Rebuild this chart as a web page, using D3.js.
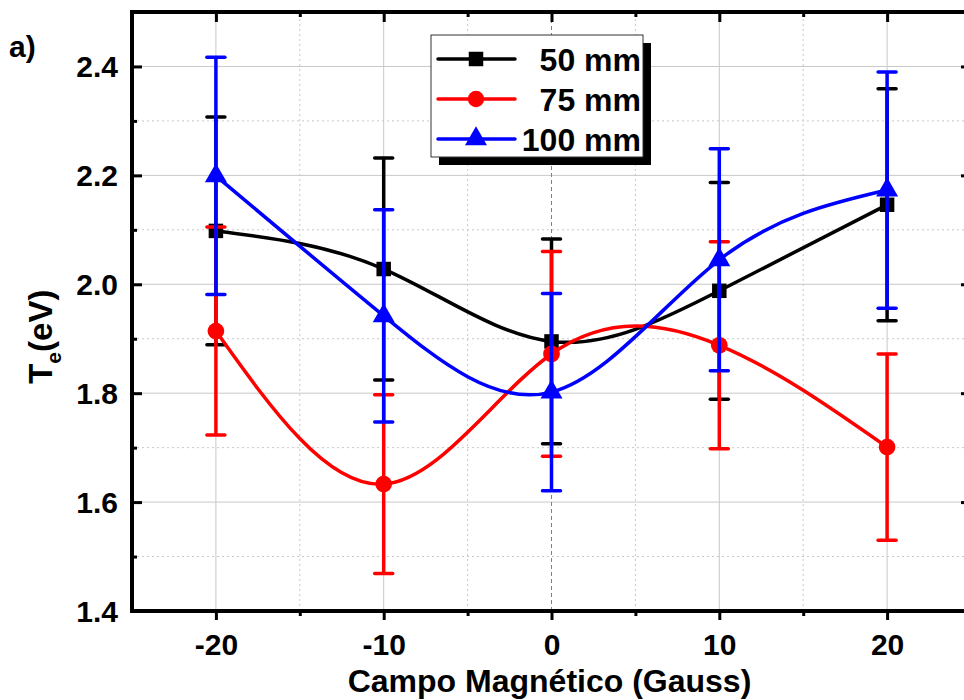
<!DOCTYPE html>
<html>
<head>
<meta charset="utf-8">
<script src="https://cdn.jsdelivr.net/npm/d3@7"></script>
<style>
  body { margin: 0; background: #fff; }
  text { font-family: "Liberation Sans", Arial, sans-serif; font-weight: bold; }
</style>
</head>
<body>
<div class="canva"></div>
<script>
// data
const campo = [-20, -10, 0, 10, 20]
const series = ["50 mm", "75 mm", "100 mm"]
const te50 = [2.098, 2.028, 1.895, 1.988, 2.146]
const err50 = [0.209, 0.204, 0.188, 0.199, 0.213]
const te75 = [1.914, 1.633, 1.872, 1.888, 1.701]
const err75 = [0.191, 0.164, 0.188, 0.19, 0.171]
const te100 = [2.199, 1.942, 1.802, 2.045, 2.173]
const err100 = [0.218, 0.195, 0.181, 0.204, 0.217]
const colors = ["#000000", "#ff0000", "#0000ff"]
const symbols = [d3.symbolSquare, d3.symbolCircle, d3.symbolTriangle]
const xTicks = [-20, -10, 0, 10, 20]
const yTicks = [1.4, 1.6, 1.8, 2.0, 2.2, 2.4]

const width = 964
const height = 700
const margin = { left: 132, top: 12, right: -7, bottom: 89 }

const svg = d3.select(".canva").append("svg").attr("width", width).attr("height", height)

const x = d3.scaleLinear().domain([-25, 25]).range([margin.left, width - margin.right])
const y = d3.scaleLinear().domain([1.4, 2.5]).range([height - margin.bottom, margin.top])

const x0 = x.range()[0], x1 = x.range()[1]
const y0 = y.range()[0], y1 = y.range()[1]

// grid
const grid = svg.append("g")
const xMinor = [-15, -5, 5, 15]
const yMinor = [1.5, 1.7, 1.9, 2.1, 2.3]
grid.selectAll(".vmaj").data(xTicks.filter(v => v != 0)).enter().append("line")
  .attr("x1", d => x(d)).attr("x2", d => x(d)).attr("y1", y0).attr("y2", y1)
  .attr("stroke", "#c8c8c8").attr("stroke-width", 1)
grid.selectAll(".vmin").data(xMinor).enter().append("line")
  .attr("x1", d => x(d)).attr("x2", d => x(d)).attr("y1", y0).attr("y2", y1)
  .attr("stroke", "#c8c8c8").attr("stroke-width", 1).attr("stroke-dasharray", "2,3")
grid.selectAll(".hmaj").data(yTicks).enter().append("line")
  .attr("x1", x0).attr("x2", x1).attr("y1", d => y(d)).attr("y2", d => y(d))
  .attr("stroke", "#c8c8c8").attr("stroke-width", 1)
grid.selectAll(".hmin").data(yMinor).enter().append("line")
  .attr("x1", x0).attr("x2", x1).attr("y1", d => y(d)).attr("y2", d => y(d))
  .attr("stroke", "#c8c8c8").attr("stroke-width", 1).attr("stroke-dasharray", "2,3")
// zero line
grid.append("line")
  .attr("x1", x(0)).attr("x2", x(0)).attr("y1", y0).attr("y2", y1)
  .attr("stroke", "#808080").attr("stroke-width", 1).attr("stroke-dasharray", "4,3")

// axes
const tickFmt = d3.format(".1f")
svg.append("g").attr("transform", `translate(0,${y0})`)
  .call(d3.axisBottom(x).tickValues(xTicks).tickSize(9).tickFormat(d => String(d)))
  .call(g => g.select(".domain").remove())
  .call(g => g.selectAll("line").attr("stroke-width", 3))
  .call(g => g.selectAll("text").attr("font-size", 30).attr("dy", "1.05em").attr("font-family", null))
svg.append("g").attr("transform", `translate(0,${y0})`)
  .call(d3.axisBottom(x).tickValues(xMinor).tickSize(5).tickFormat(""))
  .call(g => g.select(".domain").remove())
  .call(g => g.selectAll("line").attr("stroke-width", 3))

svg.append("g").attr("transform", `translate(${x0},0)`)
  .call(d3.axisRight(y).tickValues(yTicks).tickSize(10).tickFormat(""))
  .call(g => g.select(".domain").remove())
  .call(g => g.selectAll("line").attr("stroke-width", 3))
svg.append("g").attr("transform", `translate(${x0},0)`)
  .call(d3.axisRight(y).tickValues(yMinor).tickSize(5).tickFormat(""))
  .call(g => g.select(".domain").remove())
  .call(g => g.selectAll("line").attr("stroke-width", 3))
svg.append("g").selectAll("text").data(yTicks).enter().append("text")
  .attr("x", x0 - 14).attr("y", d => y(d)).attr("dy", "0.36em")
  .attr("text-anchor", "end").attr("font-size", 30).text(d => tickFmt(d))

svg.append("g").attr("transform", `translate(${x1},0)`)
  .call(d3.axisLeft(y).tickValues(yTicks).tickSize(10).tickFormat(""))
  .call(g => g.select(".domain").remove())
  .call(g => g.selectAll("line").attr("stroke-width", 3))
svg.append("g").attr("transform", `translate(0,${y1})`)
  .call(d3.axisBottom(x).tickValues(xTicks).tickSize(10).tickFormat(""))
  .call(g => g.select(".domain").remove())
  .call(g => g.selectAll("line").attr("stroke-width", 3))
svg.append("g").attr("transform", `translate(0,${y1})`)
  .call(d3.axisBottom(x).tickValues(xMinor).tickSize(5).tickFormat(""))
  .call(g => g.select(".domain").remove())
  .call(g => g.selectAll("line").attr("stroke-width", 3))

svg.append("rect").attr("x", x0).attr("y", y1).attr("width", x1 - x0).attr("height", y0 - y1)
  .attr("fill", "none").attr("stroke", "#000").attr("stroke-width", 4)

// series
const allVals = [te50, te75, te100]
const allErr = [err50, err75, err100]
const line = d3.line().x(d => x(d.x)).y(d => y(d.y)).curve(d3.curveNatural)

series.forEach((name, i) => {
  const pts = campo.map((c, j) => ({ x: c, y: allVals[i][j], e: allErr[i][j] }))
  const g = svg.append("g")
  g.append("path").datum(pts).attr("d", line)
    .attr("fill", "none").attr("stroke", colors[i]).attr("stroke-width", 3.5)
  const eb = g.selectAll(".eb").data(pts).enter().append("g")
  eb.append("line").attr("x1", d => x(d.x)).attr("x2", d => x(d.x))
    .attr("y1", d => y(d.y - d.e)).attr("y2", d => y(d.y + d.e))
    .attr("stroke", colors[i]).attr("stroke-width", 3.5)
  eb.append("line").attr("x1", d => x(d.x) - 9).attr("x2", d => x(d.x) + 9)
    .attr("y1", d => y(d.y + d.e)).attr("y2", d => y(d.y + d.e))
    .attr("stroke", colors[i]).attr("stroke-width", 3.5).attr("stroke-linecap", "round")
  eb.append("line").attr("x1", d => x(d.x) - 9).attr("x2", d => x(d.x) + 9)
    .attr("y1", d => y(d.y - d.e)).attr("y2", d => y(d.y - d.e))
    .attr("stroke", colors[i]).attr("stroke-width", 3.5).attr("stroke-linecap", "round")
  g.selectAll(".pt").data(pts).enter().append("path")
    .attr("d", d3.symbol().type(symbols[i]).size(i == 1 ? 220 : 210))
    .attr("transform", d => `translate(${x(d.x)},${y(d.y)})`)
    .attr("fill", colors[i])
})

// legend
const lg = svg.append("g").attr("transform", "translate(431,35)")
lg.append("rect").attr("x", 8).attr("y", 8).attr("width", 212).attr("height", 122).attr("fill", "#000")
lg.append("rect").attr("x", 0).attr("y", 0).attr("width", 212).attr("height", 122)
  .attr("fill", "#fff").attr("stroke", "#333").attr("stroke-width", 1)
series.forEach((name, i) => {
  const yy = 24 + i * 40
  lg.append("line").attr("x1", 7).attr("x2", 84).attr("y1", yy).attr("y2", yy)
    .attr("stroke", colors[i]).attr("stroke-width", 3.5).attr("stroke-linecap", "round")
  lg.append("path").attr("d", d3.symbol().type(symbols[i]).size(210))
    .attr("transform", `translate(45,${yy})`).attr("fill", colors[i])
  lg.append("text").attr("x", 210).attr("y", yy).attr("dy", "0.36em")
    .attr("text-anchor", "end").attr("font-size", 32).text(name)
})

// labels
svg.append("text").attr("x", (x0 + 971) / 2 - 2).attr("y", 692)
  .attr("text-anchor", "middle").attr("font-size", 32).text("Campo Magnético (Gauss)")
const yl = svg.append("text").attr("transform", `translate(52,${y(1.9) - 2}) rotate(-90)`)
  .attr("text-anchor", "middle").attr("font-size", 33)
yl.append("tspan").text("T")
yl.append("tspan").attr("font-size", 21).attr("dy", 9).text("e")
yl.append("tspan").attr("dy", -9).text("(eV)")
svg.append("text").attr("x", 9).attr("y", 57).attr("font-size", 30).text("a)")
</script>
</body>
</html>
